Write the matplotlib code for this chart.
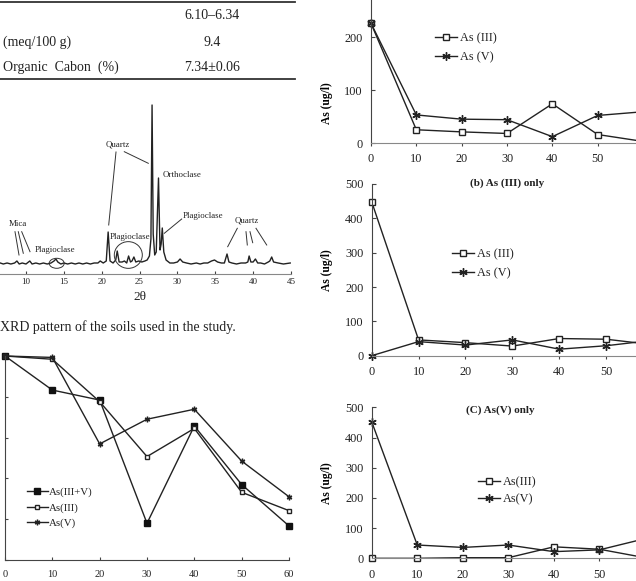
import numpy as np
import matplotlib
matplotlib.use("Agg")
import matplotlib.pyplot as plt
from matplotlib.patches import Ellipse

plt.rcParams['font.family'] = ['Liberation Serif', 'DejaVu Serif']
plt.rcParams['text.color'] = '#222222'
plt.rcParams['axes.edgecolor'] = '#444444'
plt.rcParams['xtick.color'] = '#444444'
plt.rcParams['ytick.color'] = '#444444'
plt.rcParams['xtick.labelcolor'] = '#222222'
plt.rcParams['ytick.labelcolor'] = '#222222'

W, H = 636, 581

# ---- data ----
# table fragment
table_rows = ["", "(meq/100 g)", "Organic  Cabon  (%)"]
table_vals = ["6.10\u20136.34", "9.4", "7.34\u00b10.06"]

# XRD pattern (2theta, relative intensity)
xrd_2theta = [6.6, 7.0, 7.5, 8.0, 8.5, 8.8, 9.1, 9.5, 10.0, 10.5, 10.8, 11.3, 11.8,
              12.3, 12.8, 13.3, 13.7, 13.95, 14.2, 14.6, 15.0, 15.5, 16.0, 16.5,
              17.0, 17.5, 18.0, 18.5, 19.0, 19.5, 19.8, 20.2, 20.6, 20.85, 21.1,
              21.5, 21.85, 22.05, 22.3, 22.7, 23.0, 23.3, 23.55, 23.8, 24.0, 24.25,
              24.5, 24.9, 25.3, 25.7, 26.0, 26.3, 26.5, 26.65, 26.8, 27.0, 27.2,
              27.5, 27.7, 27.85, 28.0, 28.2, 28.5, 29.0, 29.5, 30.0, 30.35, 30.7,
              31.2, 31.8, 32.5, 33.0, 33.5, 34.0, 34.5, 34.9, 35.3, 35.8, 36.2,
              36.55, 36.8, 37.2, 37.8, 38.4, 39.0, 39.3, 39.47, 39.7, 40.0, 40.3,
              40.6, 41.0, 41.5, 42.0, 42.2, 42.45, 42.7, 43.3, 44.0, 44.9]
xrd_counts = [11, 10, 11, 10, 11, 13, 10, 11, 10, 13, 10, 11, 10,
              11, 10, 11, 13, 15, 12, 10, 11, 10, 11, 10,
              11, 10, 11, 10, 11, 11, 13, 11, 13, 42, 13,
              11, 14, 23, 12, 12, 13, 11, 18, 12, 13, 17,
              12, 13, 12, 13, 14, 18, 35, 169, 40, 19, 22,
              96, 24, 30, 46, 22, 14, 11, 11, 12, 15, 12,
              11, 10, 11, 10, 11, 11, 13, 14, 12, 11, 11,
              20, 12, 11, 10, 11, 11, 12, 18, 12, 12, 15,
              11, 11, 10, 12, 13, 17, 12, 11, 10, 11]

# removal (%) vs time, bottom-left
t_pct = [0, 10, 20, 30, 40, 50, 60]
pct_as35 = [100, 83.3, 78.4, 18, 65.7, 37, 16.7]
pct_as3 = [100, 98.4, 77.6, 50.7, 64.5, 33.2, 24.2]
pct_as5 = [100, 99.3, 56.9, 69, 73.9, 48.5, 31]

# concentration vs time, right panels
t_conc = [0, 10, 20, 30, 40, 50, 60]
a_as3 = [226, 25, 21, 18, 74, 16, 3]
a_as5 = [226, 53, 45, 44, 12, 52, 59]
b_as3 = [448, 46, 38, 28, 50, 48, 32]
b_as5 = [0, 41, 31, 46, 19, 29, 45]
c_as3 = [0, 0, 2, 2, 38, 30, 2]
c_as5 = [452, 44, 36, 44, 22, 28, 65]


def box(x0, y0, x1, y1):
    return [x0 / W, 1 - y1 / H, (x1 - x0) / W, (y1 - y0) / H]


fig = plt.figure(figsize=(W / 100, H / 100), dpi=100)

# ---- XRD ----
ax = fig.add_axes(box(0, 104, 291, 274))
ax.plot(xrd_2theta, xrd_counts, color='#222222', lw=1.0)
ax.set_xlim(6.566, 45)
ax.set_ylim(0, 170)
for s in ['left', 'right', 'top']:
    ax.spines[s].set_visible(False)
ax.spines['bottom'].set_color('#888888')
ax.set_yticks([])
ax.set_xticks([10, 15, 20, 25, 30, 35, 40, 45])
ax.tick_params(axis='x', direction='in', length=2, pad=3, labelsize=6.5)
ax.patch.set_alpha(0)

# ---- bottom-left removal chart ----
ax = fig.add_axes(box(5, 356, 289, 560))
ax.plot(t_pct, pct_as35, color='#222222', lw=1.0, marker='s', ms=4,
        mfc='#111111', mec='#111111', label='As(III+V)', clip_on=False)
ax.plot(t_pct, pct_as3, color='#222222', lw=1.0, marker='s', ms=3.5,
        mfc='white', mec='#222222', label='As(III)', clip_on=False)
ax.plot(t_pct, pct_as5, color='#222222', lw=1.0, marker=(6, 2, 0), ms=4,
        mec='#222222', label='As(V)', clip_on=False)
ax.set_xlim(0, 60)
ax.set_ylim(0, 100)
ax.set_xticks([0, 10, 20, 30, 40, 50, 60])
ax.set_yticks([0, 20, 40, 60, 80, 100])
ax.set_yticklabels([])
ax.spines['right'].set_visible(False)
ax.spines['top'].set_visible(False)
ax.tick_params(direction='in', length=2.5, labelsize=7.5)
ax.tick_params(axis='x', pad=7)
ax.legend(loc='upper left', bbox_to_anchor=(27 / W, 1 - 487 / H),
          bbox_transform=fig.transFigure, frameon=False, fontsize=7.8,
          handlelength=1.9, handletextpad=0.15, labelspacing=0.55,
          borderpad=0, borderaxespad=0)
ax.patch.set_alpha(0)


def conc_panel(rect, ymax, yticks, y3, y5, leg_xy, label_y, title=None,
               title_xy=None, lab3='As (III)', lab5='As (V)', lsp=0.6):
    ax = fig.add_axes(box(*rect))
    ax.plot(t_conc, y3, color='#222222', lw=1.0, marker='s', ms=4.5,
            mfc='white', mec='#222222', label=lab3, clip_on=False)
    ax.plot(t_conc, y5, color='#222222', lw=1.0, marker=(6, 2, 0), ms=6,
            mec='#222222', mew=1.0, label=lab5, clip_on=False)
    ax.set_xlim(0, 60)
    ax.set_ylim(0, ymax)
    # the 60 label falls outside the cropped picture
    ax.set_xticks([0, 10, 20, 30, 40, 50])
    ax.set_yticks(yticks)
    ax.spines['right'].set_visible(False)
    ax.spines['top'].set_visible(False)
    ax.spines['bottom'].set_color('#888888')
    ax.tick_params(labelsize=8.8)
    ax.tick_params(axis='x', direction='out', length=2.5, pad=5)
    ax.tick_params(axis='y', direction='in', length=3, pad=6)
    ax.set_ylabel('As (ug/l)', fontsize=8.3, fontweight='bold')
    ax.yaxis.set_label_coords((333 - rect[0]) / (rect[2] - rect[0]), label_y)
    ax.legend(loc='upper left', bbox_to_anchor=(leg_xy[0] / W, 1 - leg_xy[1] / H),
              bbox_transform=fig.transFigure, frameon=False, fontsize=8.8,
              handlelength=1.8, handletextpad=0.25, labelspacing=lsp,
              borderpad=0, borderaxespad=0)
    if title:
        fig.text(title_xy[0] / W, 1 - title_xy[1] / H, title, fontsize=8,
                 fontweight='bold', ha='center', va='center')
    ax.patch.set_alpha(0)
    return ax


conc_panel((371, 0, 643, 143), 270, [0, 100, 200], a_as3, a_as5, (435, 32),
           1 - 103 / 143)
conc_panel((371.7, 184, 653, 355.7), 500, [0, 100, 200, 300, 400, 500],
           b_as3, b_as5, (451.7, 248), 0.5, '(b) As (III) only', (507, 183))
conc_panel((371.7, 407.3, 645, 558.3), 500, [0, 100, 200, 300, 400, 500],
           c_as3, c_as5, (478, 476), 0.5, '(C) As(V) only', (500, 410),
           lab3='As(III)', lab5='As(V)', lsp=0.45)

# ---- overlay: table, annotations, caption ----
ov = fig.add_axes([0, 0, 1, 1], zorder=10)
ov.set_xlim(0, W)
ov.set_ylim(H, 0)
ov.axis('off')
ov.patch.set_alpha(0)

ov.plot([0, 295], [2, 2], color='#333333', lw=1.3)
ov.plot([0, 295], [79, 79], color='#333333', lw=1.3)
for row_y, lab, val in zip([15.3, 42.3, 67.7], table_rows, table_vals):
    ov.text(3, row_y, lab, fontsize=10, ha='left', va='center')
    ov.text(212, row_y, val, fontsize=10, ha='center', va='center')

ann = dict(fontsize=6.4, va='center')
lk = dict(color='#333333', lw=0.7)
ov.text(118, 144, 'Quartz', ha='center', **ann)
ov.plot([116, 108.7], [152, 225], **lk)
ov.plot([124.3, 148.3], [151.7, 163.3], **lk)
ov.text(162.3, 175, 'Orthoclase', ha='left', **ann)
ov.text(182.7, 215.7, 'Plagioclase', ha='left', **ann)
ov.plot([181.7, 164.3], [219, 233.3], **lk)
ov.text(246.7, 220.7, 'Quartz', ha='center', **ann)
ov.plot([237.3, 227.7], [228.3, 246.7], **lk)
ov.plot([246, 247.3], [231.7, 245], **lk)
ov.plot([250, 252.7], [231.7, 242.7], **lk)
ov.plot([256, 266.7], [228.3, 245], **lk)
ov.text(17.7, 224.3, 'Mica', ha='center', **ann)
ov.plot([15, 19], [231.7, 255], **lk)
ov.plot([18.3, 23.3], [231.7, 253.3], **lk)
ov.plot([21.7, 30], [231.7, 251.7], **lk)
ov.text(55, 250, 'Plagioclase', ha='center', **ann)
ov.add_patch(Ellipse((56.7, 263.3), 15, 10, fill=False, ec='#333333', lw=0.7))
ov.text(130, 237.3, 'Plagioclase', ha='center', **ann)
ov.add_patch(Ellipse((128.3, 255), 28, 26.7, fill=False, ec='#333333', lw=0.7))
ov.text(140, 297, '2\u03b8', fontsize=9.5, ha='center', va='center')

ov.text(0, 327, 'XRD pattern of the soils used in the study.', fontsize=10,
        ha='left', va='center')

fig.savefig('out.png', dpi=100)
